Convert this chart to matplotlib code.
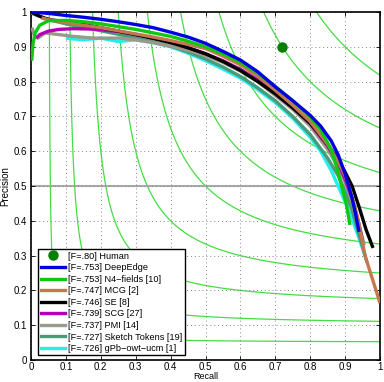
import numpy as np
import matplotlib
matplotlib.use("Agg")
import matplotlib.pyplot as plt
from matplotlib.lines import Line2D

plt.rcParams['font.family'] = ['Liberation Sans', 'DejaVu Sans']

iso_f_levels = [0.1, 0.2, 0.3, 0.4, 0.5, 0.6, 0.7, 0.8, 0.9]

human_r = [0.72]
human_p = [0.90]

deepedge_r = [0.0, 0.05, 0.1, 0.15, 0.2, 0.25, 0.3, 0.35, 0.4, 0.45, 0.5, 0.55, 0.6, 0.65, 0.7, 0.75, 0.8, 0.83, 0.86, 0.88, 0.9, 0.91, 0.92, 0.93, 0.94]
deepedge_p = [1.0, 0.996, 0.99, 0.985, 0.979, 0.972, 0.964, 0.955, 0.942, 0.928, 0.91, 0.887, 0.862, 0.828, 0.785, 0.745, 0.703, 0.672, 0.63, 0.59, 0.535, 0.5, 0.465, 0.42, 0.368]

n4_r = [0.002, 0.006, 0.012, 0.025, 0.05, 0.1, 0.15, 0.2, 0.25, 0.3, 0.35, 0.4, 0.45, 0.5, 0.55, 0.6, 0.65, 0.7, 0.75, 0.8, 0.83, 0.86, 0.877, 0.89, 0.903, 0.914]
n4_p = [0.86, 0.91, 0.94, 0.962, 0.975, 0.976, 0.972, 0.966, 0.958, 0.95, 0.94, 0.93, 0.916, 0.9, 0.88, 0.855, 0.824, 0.786, 0.745, 0.698, 0.662, 0.605, 0.55, 0.5, 0.45, 0.388]

mcg_r = [0.03, 0.05, 0.1, 0.15, 0.2, 0.25, 0.3, 0.35, 0.4, 0.45, 0.5, 0.55, 0.6, 0.65, 0.7, 0.75, 0.8, 0.85, 0.88, 0.9, 0.92, 0.94, 0.957, 1.0]
mcg_p = [0.983, 0.978, 0.97, 0.962, 0.955, 0.946, 0.937, 0.928, 0.918, 0.907, 0.895, 0.873, 0.848, 0.815, 0.775, 0.732, 0.685, 0.62, 0.57, 0.53, 0.47, 0.39, 0.30, 0.164]

se_r = [0.0, 0.02, 0.04, 0.06, 0.1, 0.15, 0.2, 0.25, 0.3, 0.35, 0.4, 0.45, 0.5, 0.55, 0.6, 0.65, 0.7, 0.75, 0.8, 0.85, 0.88, 0.9, 0.92, 0.94, 0.96, 0.98]
se_p = [1.0, 0.99, 0.982, 0.977, 0.972, 0.964, 0.955, 0.945, 0.935, 0.924, 0.912, 0.897, 0.88, 0.858, 0.832, 0.8, 0.765, 0.725, 0.68, 0.62, 0.575, 0.54, 0.5, 0.44, 0.375, 0.322]

scg_r = [0.015, 0.025, 0.05, 0.08, 0.12, 0.18, 0.25, 0.3, 0.35, 0.4, 0.45, 0.5, 0.55, 0.6, 0.65, 0.7, 0.75, 0.8, 0.85, 0.88, 0.9, 0.92, 0.935, 0.95]
scg_p = [0.925, 0.935, 0.945, 0.95, 0.952, 0.951, 0.944, 0.935, 0.925, 0.914, 0.898, 0.88, 0.86, 0.835, 0.805, 0.765, 0.725, 0.68, 0.615, 0.565, 0.52, 0.465, 0.41, 0.34]

pmi_r = [0.003, 0.01, 0.02, 0.04, 0.08, 0.12, 0.18, 0.25, 0.3, 0.35, 0.4, 0.45, 0.5, 0.55, 0.6, 0.65, 0.7, 0.75, 0.8, 0.85, 0.88, 0.9, 0.92, 0.94, 0.955]
pmi_p = [0.955, 0.93, 0.925, 0.94, 0.935, 0.93, 0.925, 0.925, 0.92, 0.912, 0.902, 0.89, 0.875, 0.855, 0.83, 0.8, 0.76, 0.72, 0.672, 0.605, 0.555, 0.51, 0.455, 0.39, 0.33]

st_r = [0.0, 0.05, 0.1, 0.15, 0.2, 0.25, 0.3, 0.35, 0.4, 0.45, 0.5, 0.55, 0.6, 0.65, 0.7, 0.75, 0.8, 0.85, 0.88, 0.9, 0.92, 0.94, 0.963]
st_p = [0.997, 0.978, 0.966, 0.956, 0.946, 0.936, 0.925, 0.914, 0.902, 0.885, 0.865, 0.842, 0.815, 0.782, 0.745, 0.7, 0.648, 0.58, 0.53, 0.485, 0.43, 0.36, 0.28]

gpb_r = [0.1, 0.15, 0.2, 0.25, 0.3, 0.35, 0.4, 0.45, 0.5, 0.55, 0.6, 0.65, 0.7, 0.75, 0.8, 0.83, 0.86, 0.88, 0.9, 0.92, 0.94, 0.957]
gpb_p = [0.925, 0.92, 0.925, 0.915, 0.92, 0.912, 0.9, 0.882, 0.86, 0.836, 0.81, 0.777, 0.74, 0.695, 0.64, 0.6, 0.545, 0.5, 0.455, 0.405, 0.35, 0.30]

labels = ["[F=.80] Human", "[F=.753] DeepEdge", "[F=.753] N4\u2212fields [10]",
          "[F=.747] MCG [2]", "[F=.746] SE [8]", "[F=.739] SCG [27]",
          "[F=.737] PMI [14]", "[F=.727] Sketch Tokens [19]", "[F=.726] gPb\u2212owt\u2212ucm [1]"]

series = [
    (deepedge_r, deepedge_p, '#0000e0'),
    (n4_r, n4_p, '#11c811'),
    (mcg_r, mcg_p, '#c4784f'),
    (se_r, se_p, '#000000'),
    (scg_r, scg_p, '#b400b4'),
    (pmi_r, pmi_p, '#9a9a8a'),
    (st_r, st_p, '#4a9a7a'),
    (gpb_r, gpb_p, '#22eeee'),
]

fig = plt.figure(figsize=(3.84, 3.82), dpi=100)
ax = fig.add_axes([31/384, 1-360/382, 349/384, 348/382])

# iso-F contours
g = np.linspace(0.001, 1.0, 600)
RR, PP = np.meshgrid(g, g)
FF = 2 * RR * PP / (RR + PP)
ax.contour(RR, PP, FF, levels=iso_f_levels, colors='#44dd44', linewidths=0.9, zorder=1)

ax.axhline(0.5, color='#aaaaaa', lw=1.5, zorder=1)

handles = []
h = ax.plot(human_r, human_p, 'o', color='#008000', ms=6.5, zorder=5)[0]
handles.append(h)
for (r, p, c) in series[::-1]:
    ax.plot(r, p, color=c, lw=2.4, solid_capstyle='butt', solid_joinstyle='round', zorder=3)
for (r, p, c) in series:
    handles.append(Line2D([], [], color=c, lw=2.4))

ax.set_xlim(0, 1)
ax.set_ylim(0, 1)
ticks = np.round(np.arange(0, 1.01, 0.1), 1)
ax.set_xticks(ticks)
ax.set_yticks(ticks)
tl = ['0' if t == 0 else ('1' if t == 1 else f'{t:.1f}') for t in ticks]
ax.set_xticklabels(tl)
ax.set_yticklabels(tl)
ax.tick_params(direction='in', top=True, right=True, labelsize=7, length=3, width=0.6, pad=3)
ax.tick_params(axis='x', pad=1.5)
ax.grid(True, linestyle=(0, (1, 3)), color='#888888', lw=0.7)
for s in ax.spines.values():
    s.set_linewidth(1.2)
ax.set_xlabel('Recall', fontsize=6.5)
ax.xaxis.set_label_coords(0.5, -0.035)
ax.set_ylabel('Precision', fontsize=7, labelpad=2)

leg = ax.legend(handles, labels, loc='lower left', bbox_to_anchor=(0.008, 0.0), fontsize=6.6,
                frameon=True, fancybox=False, edgecolor='black', framealpha=1,
                handlelength=2.6, handletextpad=0.4, labelspacing=0.28, borderpad=0.25,
                borderaxespad=0.5)
leg.get_frame().set_linewidth(1.0)

fig.savefig('out.png', dpi=100)
